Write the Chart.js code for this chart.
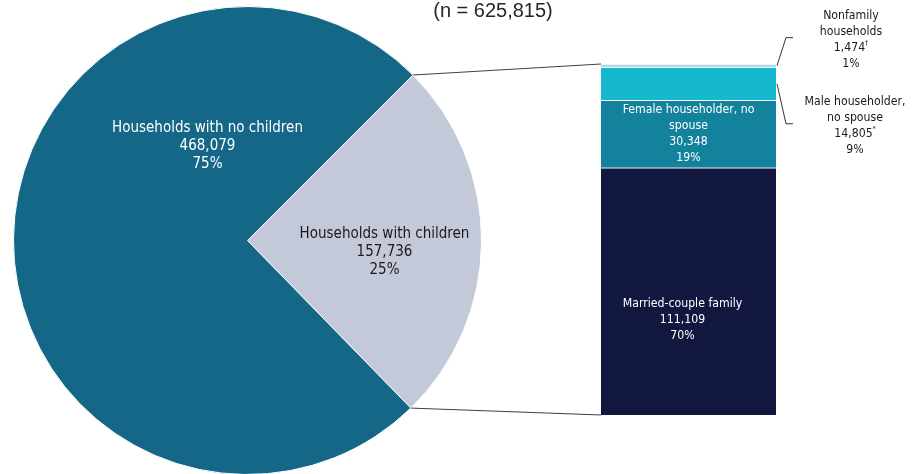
<!DOCTYPE html>
<html>
<head>
<meta charset="utf-8">
<script src="https://cdn.jsdelivr.net/npm/chart.js@4.4.0/dist/chart.umd.min.js"></script>
<style>
  html, body { margin: 0; padding: 0; background: #fff; overflow: hidden; }
  #wrap { position: relative; width: 917px; height: 474px; overflow: hidden; }
  #wrap canvas { position: absolute; left: 0; top: 0; }
</style>
</head>
<body>
<div id="wrap">
  <canvas id="pie-chart" width="917" height="480"></canvas>
  <canvas id="bar-chart" width="917" height="480"></canvas>
</div>
<script>
// ---- data ----
const sampleSize = "625,815";

const pieLabels = ["Households with children", "Households with no children"];
const pieValues = [157736, 468079];
const piePercents = ["25%", "75%"];

// stacked bar, bottom to top
const barLabels = ["Married-couple family", "Female householder, no\nspouse", "Male householder,\nno spouse", "Nonfamily\nhouseholds"];
const barValues = [111109, 30348, 14805, 1474];
const barPercents = ["70%", "19%", "9%", "1%"];
const barNotes = ["", "", "*", "\u2020"];

// ---- styles ----
const pieColors = ["#C3C9D9", "#156788"];
const barColors = ["#12173F", "#13829D", "#16B8CF", "#A3DCE8"];
const FONT = "'DejaVu Sans Condensed', 'DejaVu Sans', sans-serif";
const fmt = v => v.toLocaleString("en-US");

/**
 * Draw a centred block of text lines. A line may carry a superscript note.
 */
function drawBlock(ctx, lines, cx, cy, lineH, size, color) {
  ctx.save();
  ctx.fillStyle = color;
  ctx.textBaseline = "middle";
  const top = cy - (lines.length - 1) * lineH / 2;
  lines.forEach((ln, i) => {
    const y = top + i * lineH;
    const text = typeof ln === "string" ? ln : ln.text;
    const sup = typeof ln === "string" ? "" : ln.sup;
    ctx.font = size + "px " + FONT;
    const w = ctx.measureText(text).width;
    ctx.font = Math.round(size * 0.6) + "px " + FONT;
    const sw = sup ? ctx.measureText(sup).width : 0;
    const x0 = cx - (w + sw) / 2;
    ctx.textAlign = "left";
    ctx.font = size + "px " + FONT;
    ctx.fillText(text, x0, y);
    if (sup) {
      ctx.font = Math.round(size * 0.6) + "px " + FONT;
      ctx.fillText(sup, x0 + w, y - size * 0.35);
    }
  });
  ctx.restore();
}

// label offsets from the pie centre (style only)
const pieLabelOffsets = [{ dx: 137, dy: 12, color: "#1a1a1a" }, { dx: -40, dy: -94, color: "#ffffff" }];

const pieLabelPlugin = {
  id: "pieLabels",
  afterDatasetsDraw(chart) {
    const ctx = chart.ctx;
    const arcs = chart.getDatasetMeta(0).data;
    arcs.forEach((arc, i) => {
      const o = pieLabelOffsets[i];
      drawBlock(ctx, [pieLabels[i], fmt(pieValues[i]), piePercents[i]],
        arc.x + o.dx, arc.y + o.dy, 18, 15, o.color);
    });
    // sample size caption
    ctx.save();
    ctx.font = "20px 'Liberation Sans', Arial, sans-serif";
    ctx.fillStyle = "#262626";
    ctx.textAlign = "center";
    ctx.textBaseline = "alphabetic";
    ctx.fillText("(n = " + sampleSize + ")", 493, 17);
    ctx.restore();
  }
};

const pieChart = new Chart(document.getElementById("pie-chart"), {
  type: "pie",
  data: {
    labels: pieLabels,
    datasets: [{
      data: pieValues,
      backgroundColor: pieColors,
      borderColor: "#ffffff",
      borderWidth: 1,
    }],
  },
  options: {
    responsive: false,
    animation: false,
    rotation: 45,
    layout: { padding: { left: 13, top: 6, right: 435, bottom: 5 } },
    plugins: { legend: { display: false }, tooltip: { enabled: false } },
  },
  plugins: [pieLabelPlugin],
});

// where each bar label goes: inside (white) or outside right with a leader
const barLabelPlacement = [
  { inside: true, dx: -6, dy: 28 },
  { inside: true, dx: 0, dy: 0 },
  { inside: false, dx: 79, dy: 42 },
  { inside: false, dx: 75, dy: -26 },
];

const barLabelPlugin = {
  id: "barLabels",
  afterDatasetsDraw(chart) {
    const ctx = chart.ctx;
    const bars = barValues.map((_, i) => chart.getDatasetMeta(i).data[0]);

    bars.forEach((bar, i) => {
      const p = barLabelPlacement[i];
      const mid = (bar.y + bar.base) / 2;
      const lines = barLabels[i].split("\n");
      lines.push({ text: fmt(barValues[i]), sup: barNotes[i] });
      lines.push(barPercents[i]);
      if (p.inside) {
        drawBlock(ctx, lines, bar.x + p.dx, mid + p.dy, 16, 12.2, "#ffffff");
      } else {
        const right = bar.x + bar.width / 2;
        const cy = mid + p.dy;
        drawBlock(ctx, lines, right + p.dx, cy, 16, 12.2, "#1a1a1a");
        ctx.save();
        ctx.strokeStyle = "#333";
        ctx.lineWidth = 1;
        ctx.beginPath();
        ctx.moveTo(right + 1, mid);
        ctx.lineTo(right + 10, cy - 2);
        ctx.lineTo(right + 17, cy - 2);
        ctx.stroke();
        ctx.restore();
      }
    });

    // connectors from the "with children" slice to the bar
    const arc = pieChart.getDatasetMeta(0).data[0];
    const top = bars[bars.length - 1];
    const bottom = bars[0];
    const left = top.x - top.width / 2;
    ctx.save();
    ctx.strokeStyle = "#404040";
    ctx.lineWidth = 1;
    ctx.beginPath();
    ctx.moveTo(arc.x + arc.outerRadius * Math.cos(arc.startAngle), arc.y + arc.outerRadius * Math.sin(arc.startAngle));
    ctx.lineTo(left, top.y);
    ctx.moveTo(arc.x + arc.outerRadius * Math.cos(arc.endAngle), arc.y + arc.outerRadius * Math.sin(arc.endAngle));
    ctx.lineTo(left, bottom.base);
    ctx.stroke();
    ctx.restore();
  }
};

const barTotal = barValues.reduce((a, b) => a + b, 0);

new Chart(document.getElementById("bar-chart"), {
  type: "bar",
  data: {
    labels: [""],
    datasets: barValues.map((v, i) => ({
      label: barLabels[i],
      data: [v],
      backgroundColor: barColors[i],
      borderColor: "#ffffff",
      borderWidth: { top: 1, left: 0, right: 0, bottom: 0 },
      borderSkipped: false,
    })),
  },
  options: {
    responsive: false,
    animation: false,
    layout: { padding: { left: 601, right: 141, top: 64, bottom: 65 } },
    datasets: { bar: { barPercentage: 1, categoryPercentage: 1 } },
    scales: {
      x: { stacked: true, display: false },
      y: { stacked: true, display: false, min: 0, max: barTotal },
    },
    plugins: { legend: { display: false }, tooltip: { enabled: false } },
  },
  plugins: [barLabelPlugin],
});
</script>
</body>
</html>
